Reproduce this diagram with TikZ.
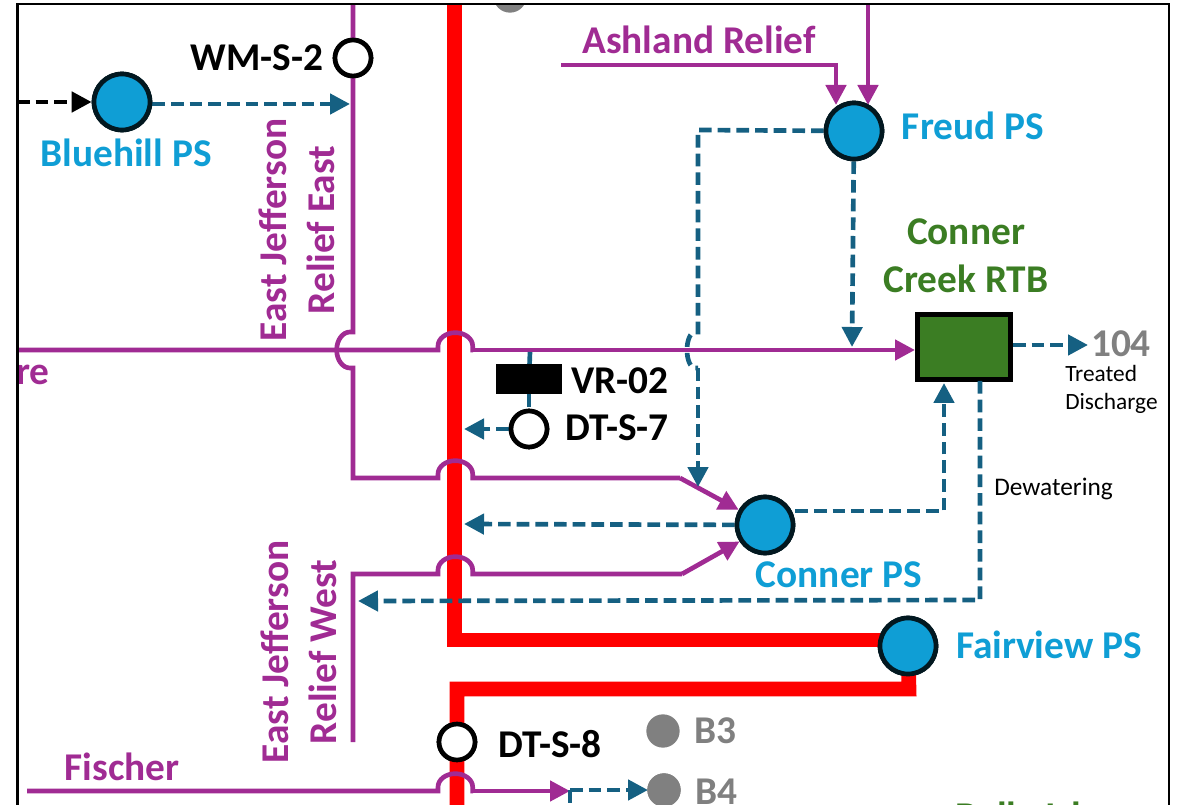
\documentclass[tikz,border=0pt]{standalone}
\usepackage{fontspec}
\setmainfont{Carlito}
\usepackage{xcolor}
\usetikzlibrary{arrows.meta, positioning}

\definecolor{pipepurple}{HTML}{A02B93}
\definecolor{psblue}{HTML}{0F9ED5}
\definecolor{flowblue}{HTML}{156082}
\definecolor{rtbgreen}{HTML}{3B7D23}
\definecolor{basingray}{HTML}{808080}

\begin{document}
\begin{tikzpicture}[
  x=0.75pt, y=-0.75pt,
  lab/.style={font=\fontsize{29.5}{36}\selectfont\bfseries, align=center, inner sep=0pt},
  note/.style={font=\fontsize{17.5}{21}\selectfont, align=left, inner sep=0pt},
  ps/.style={circle, draw=black!85!psblue, fill=psblue, line width=3.5pt, minimum size=42pt, inner sep=0pt},
  gate/.style={circle, draw=black, fill=white, line width=3.5pt, minimum size=27pt, inner sep=0pt},
  basin/.style={circle, fill=basingray, minimum size=25pt, inner sep=0pt},
  rtb/.style={draw=black, fill=rtbgreen, line width=3.5pt, minimum width=70pt, minimum height=49pt, inner sep=0pt},
  pipe/.style={pipepurple, line width=3.5pt},
  main/.style={red, line width=11pt},
  flow/.style={flowblue, line width=3.5pt, dash pattern=on 9.5pt off 4.5pt},
  arr/.style={-{Triangle[length=15pt,width=15pt]}},
  hop/.style={to path={-- ++(0,-4) arc[start angle=180, end angle=0, x radius=13pt, y radius=10pt] -- ++(0,4) -- (\tikztotarget)}}]

  \useasboundingbox (0,0) rectangle (1178,805);

  % everything stays inside the page frame
  \begin{scope}
  \clip (17,4) rectangle (1169,805);

  % stations
  \node[ps] (bluehill) at (122,102) {};
  \node[ps] (freud) at (854,131) {};
  \node[ps] (conner) at (765,525) {};
  \node[ps] (fairview) at (908,646) {};
  \node[rtb] (rtb) at (964,347) {};
  \node[gate] (wms2) at (353,58) {};
  \node[gate] (dts7) at (529,429) {};
  \node[gate] (dts8) at (457,742) {};
  \node[fill=black, minimum width=49pt, minimum height=22pt, inner sep=0pt] (vr02) at (529,379) {};
  \node[basin] (b2) at (510,-4) {};
  \node[basin] (b3) at (663,731) {};
  \node[basin] (b4) at (664,790) {};

  % waypoints
  \coordinate (topeast) at (353,0);
  \coordinate (eastin) at (353,332);
  \coordinate (eastout) at (353,368);
  \coordinate (eastcorner) at (353,478);
  \coordinate (eastbend) at (680,478);
  \coordinate (westend) at (353,742);
  \coordinate (westcorner) at (353,574);
  \coordinate (westbend) at (682,574);
  \coordinate (leftend) at (17,350);
  \coordinate (fischerend) at (27,791);
  \coordinate (fischertip) at (570,791);
  \coordinate (ashlandend) at (561,65);
  \coordinate (ashlandcorner) at (836,65);
  \coordinate (ashlandtip) at (836,105);
  \coordinate (toptip) at (868,105);
  \coordinate (topfreud) at (868,0);
  \coordinate (inleft) at (17,102);
  \coordinate (bluetip) at (350,104);
  \coordinate (freudcorner) at (698,130);
  \coordinate (crossin) at (698,332);
  \coordinate (crossout) at (698,368);
  \coordinate (connertip) at (698,487);
  \coordinate (freudtip) at (852,347);
  \coordinate (dischargetip) at (1088,345);
  \coordinate (stubtop) at (530,352);
  \coordinate (dtstip) at (464,429);
  \coordinate (connertipl) at (464,524);
  \coordinate (rtbcorner) at (944,511);
  \coordinate (rtbtip) at (944,383);
  \coordinate (dewtop) at (980,381);
  \coordinate (dewcorner) at (980,600);
  \coordinate (dewtip) at (358,601);
  \coordinate (b4corner) at (570,790);
  \coordinate (b4down) at (570,805);
  \coordinate (b4tip) at (648,790);
  \coordinate (redturn) at (454.5,640);
  \coordinate (redend) at (900,640);

  % red trunk
  \draw[main, line join=miter] (454.5,0) -- (redturn) -- (redend);
  \draw[main, line join=miter] (fairview.center) -- (909,689) -- (457,689) -- (457,805);

  % purple relief lines
  \draw[pipe] (topeast) -- (eastin) -- ++(-3,0) arc[start angle=90, end angle=270, x radius=10pt, y radius=13.5pt] -- (eastout)
    -- (eastcorner) -- (438,478) to[hop] (473,478) -- (eastbend);
  \draw[pipe, arr] (eastbend) -- (conner.150);
  \draw[pipe] (westend) -- (westcorner) -- (438,574) to[hop] (473,574) -- (westbend);
  \draw[pipe, arr] (westbend) -- (conner.213);
  \draw[pipe] (leftend) -- (438,350) to[hop] (473,350);
  \draw[pipe, arr] (473,350) -- (rtb.west |- 473,350);
  \draw[pipe] (fischerend) -- (438,791) to[hop] (473,791);
  \draw[pipe, arr] (473,791) -- (fischertip);
  \draw[pipe, arr] (ashlandend) -- (ashlandcorner) -- (ashlandtip);
  \draw[pipe, arr] (topfreud) -- (toptip);

  % dashed flows
  \draw[black, line width=3.5pt, dash pattern=on 9.5pt off 4.5pt, arr] (inleft) -- (bluehill);
  \draw[flow, arr] (bluehill.east |- bluetip) -- (bluetip);
  \draw[flow] (freud) -- (freudcorner) -- (crossin) -- ++(-3,0) arc[start angle=90, end angle=270, x radius=6pt, y radius=13.5pt] -- (crossout);
  \draw[flow, arr] (crossout) -- (connertip);
  \draw[flow, arr] (freud) -- (freudtip);
  \draw[flow, arr] (rtb.east |- dischargetip) -- (dischargetip);
  \draw[flow] (stubtop) -- (vr02);
  \draw[flow] (vr02) -- (dts7);
  \draw[flow, arr] (dts7) -- (dtstip);
  \draw[flow, arr] (conner) -- (connertipl);
  \draw[flow, arr] (conner.east |- rtbcorner) -- (rtbcorner) -- (rtbtip);
  \draw[flow, arr] (dewtop) -- (dewcorner) -- (dewtip);
  \draw[flow] (b4corner) -- (b4down);
  \draw[flow, arr] (b4corner) -- (b4tip);

  % stations again, over the lines
  \node[ps] at (bluehill) {};
  \node[ps] at (freud) {};
  \node[ps] at (conner) {};
  \node[ps] at (fairview) {};
  \node[gate] at (wms2) {};
  \node[gate] at (dts7) {};
  \node[gate] at (dts8) {};
  \node[fill=black, minimum width=49pt, minimum height=22pt, inner sep=0pt] at (vr02) {};
  \node[basin] at (b4) {};

  % labels cut by the frame
  \node[lab, text=basingray, anchor=west] (b2lab) at (544,-9) {B2};
  \node[lab, text=rtbgreen] (bellelab) at (1028,816) {Belle Isle};
  \node[lab, text=pipepurple, anchor=east] (relab) at (50,375) {re};
  \end{scope}

  % labels
  \node[lab, text=psblue] (bluehilllab) at (126,153) {Bluehill PS};
  \node[lab, text=psblue] (freudlab) at (973,126) {Freud PS};
  \node[lab, text=psblue] (connerlab) at (839,575) {Conner PS};
  \node[lab, text=psblue] (fairviewlab) at (1049,645) {Fairview PS};
  \node[lab] (wms2lab) at (257,58) {WM-S-2};
  \node[lab] (vr02lab) at (620,381) {VR-02};
  \node[lab] (dts7lab) at (617,428) {DT-S-7};
  \node[lab] (dts8lab) at (550,744) {DT-S-8};
  \node[lab, text=basingray] (b3lab) at (715,731) {B3};
  \node[lab, text=basingray] (b4lab) at (716,792) {B4};
  \node[lab, text=basingray] (lab104) at (1121,344) {104};
  \node[lab, text=rtbgreen] (rtblab) at (966,256) {Conner\\Creek RTB};
  \node[lab, text=pipepurple] (ashlandlab) at (699,40) {Ashland Relief};
  \node[lab, text=pipepurple] (fischerlab) at (122,767) {Fischer};
  \node[lab, text=pipepurple, rotate=90] (eastlab) at (297,230) {East Jefferson\\Relief East};
  \node[lab, text=pipepurple, rotate=90] (westlab) at (299,652) {East Jefferson\\Relief West};
  \node[note, anchor=west] (treatedlab) at (1065,389) {Treated\\Discharge};
  \node[note, anchor=west, font=\fontsize{19}{21}\selectfont] (dewlab) at (994,489) {Dewatering};

  % page frame
  \draw[black, line width=1.6pt] (17.5,805) -- (17.5,4) -- (1169,4) -- (1169,805);
\end{tikzpicture}
\end{document}
